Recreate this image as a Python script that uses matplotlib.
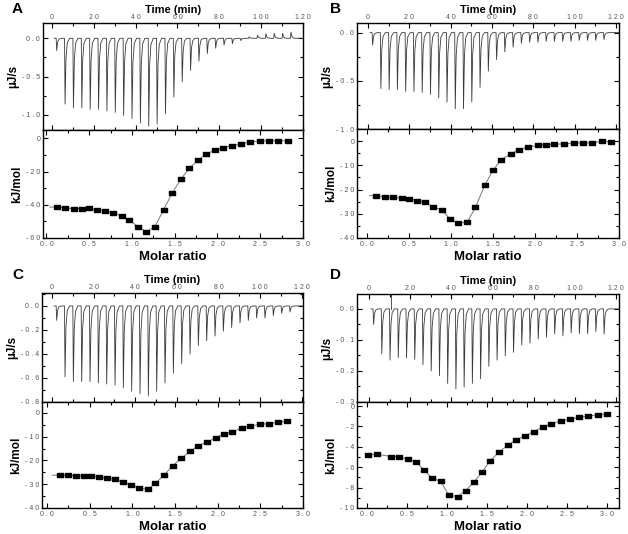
import matplotlib
matplotlib.use('Agg')
import matplotlib.pyplot as plt
from matplotlib.ticker import MultipleLocator, FuncFormatter

plt.rcParams['font.family'] = ['Liberation Sans', 'DejaVu Sans']

# injection times (min), same schedule in all four runs
t_inj = [2, 6, 10, 14, 18, 22, 26, 30, 34, 38, 42, 46, 50, 54, 58,
         62, 66, 70, 74, 78, 82, 86, 90, 94, 98, 102, 106, 110, 114]

# raw thermogram peak heights (uJ/s)
peaks_a = [-0.16, -0.86, -0.91, -0.91, -0.93, -0.93, -0.95, -0.97, -1.01, -1.05,
           -1.11, -1.15, -1.12, -0.99, -0.77, -0.57, -0.42, -0.30, -0.20, -0.13,
           -0.09, -0.07, -0.03, 0.02, 0.04, 0.06, 0.065, 0.065, 0.08]
peaks_b = [-0.13, -0.58, -0.59, -0.59, -0.61, -0.61, -0.62, -0.64, -0.68, -0.72,
           -0.79, -0.79, -0.72, -0.57, -0.40, -0.28, -0.20, -0.15, -0.11, -0.10,
           -0.10, -0.09, -0.09, -0.09, -0.09, -0.08, -0.08, -0.08, -0.07]
peaks_c = [-0.12, -0.59, -0.63, -0.63, -0.63, -0.64, -0.65, -0.66, -0.68, -0.71,
           -0.73, -0.75, -0.71, -0.64, -0.56, -0.48, -0.40, -0.33, -0.29, -0.25,
           -0.21, -0.18, -0.14, -0.12, -0.10, -0.10, -0.08, -0.06, -0.05]
peaks_d = [-0.050, -0.145, -0.165, -0.157, -0.158, -0.163, -0.180, -0.200, -0.215, -0.240,
           -0.258, -0.252, -0.240, -0.225, -0.185, -0.165, -0.151, -0.140, -0.116, -0.110,
           -0.097, -0.091, -0.080, -0.087, -0.077, -0.080, -0.080, -0.073, -0.081]
# run D: one upward spike (air bubble) next to the 3rd injection
glitch_d = (10.6, 0.047)

# integrated heats (kJ/mol) vs molar ratio
ratio_a = [0.12, 0.22, 0.32, 0.42, 0.50, 0.59, 0.68, 0.78, 0.88, 0.97, 1.07, 1.17, 1.27, 1.37,
           1.47, 1.57, 1.67, 1.77, 1.87, 1.97, 2.07, 2.17, 2.28, 2.38, 2.50, 2.60, 2.71, 2.82]
heat_a = [-41.4, -41.9, -42.3, -42.3, -42.1, -43.1, -43.7, -44.7, -46.7, -49.3, -53.1, -56.3,
          -53.1, -42.9, -33.0, -24.7, -18.1, -13.3, -9.3, -7.2, -5.6, -4.4, -3.2, -2.2,
          -1.6, -1.6, -1.4, -1.6]

ratio_b = [0.11, 0.21, 0.31, 0.41, 0.50, 0.60, 0.69, 0.79, 0.89, 0.99, 1.08, 1.19, 1.29, 1.40,
           1.50, 1.60, 1.71, 1.81, 1.92, 2.03, 2.13, 2.23, 2.34, 2.47, 2.57, 2.68, 2.80, 2.90]
heat_b = [-22.5, -23.1, -23.1, -23.6, -23.8, -24.6, -25.3, -27.1, -28.5, -32.2, -33.7, -33.6,
          -27.4, -18.3, -12.0, -7.6, -5.3, -3.5, -2.4, -1.8, -1.4, -1.3, -1.1, -0.8,
          -0.7, -0.7, -0.1, -0.3]

ratio_c = [0.15, 0.25, 0.34, 0.43, 0.51, 0.61, 0.70, 0.80, 0.89, 0.98, 1.08, 1.18, 1.27, 1.37,
           1.47, 1.57, 1.68, 1.77, 1.88, 1.98, 2.07, 2.17, 2.28, 2.38, 2.49, 2.60, 2.71, 2.81]
heat_c = [-26.2, -26.2, -26.4, -26.5, -26.5, -26.9, -27.4, -27.9, -29.2, -30.2, -31.6, -32.1,
          -29.6, -26.2, -22.3, -19.1, -16.1, -13.8, -12.1, -10.5, -8.7, -8.0, -6.3, -5.6,
          -4.8, -4.5, -3.9, -3.5]

ratio_d = [0.01, 0.12, 0.30, 0.40, 0.51, 0.61, 0.71, 0.81, 0.92, 1.02, 1.13, 1.23, 1.33, 1.44,
           1.54, 1.65, 1.76, 1.86, 1.97, 2.08, 2.20, 2.30, 2.42, 2.53, 2.65, 2.76, 2.88, 2.99]
heat_d = [-4.79, -4.72, -4.95, -4.98, -5.21, -5.44, -6.25, -7.07, -7.39, -8.73, -8.89, -8.31,
          -7.49, -6.45, -5.34, -4.50, -3.84, -3.32, -2.93, -2.51, -2.02, -1.73, -1.43, -1.30,
          -1.11, -0.98, -0.85, -0.78]

W, H = 628, 534
fig = plt.figure(figsize=(W / 100, H / 100), dpi=100)


def add_px(x0, y0, x1, y1):
    return fig.add_axes([x0 / W, 1 - y1 / H, (x1 - x0) / W, (y1 - y0) / H])


def spaced(dec):
    def f(v, pos):
        v = round(v, 6) + 0.0
        return ' '.join(f'{v:.{dec}f}')
    return FuncFormatter(f)


def style(ax, xm, xn, ym, yn, xdec, ydec):
    ax.xaxis.set_major_locator(MultipleLocator(xm))
    ax.xaxis.set_minor_locator(MultipleLocator(xn))
    ax.yaxis.set_major_locator(MultipleLocator(ym))
    ax.yaxis.set_minor_locator(MultipleLocator(yn))
    ax.xaxis.set_major_formatter(spaced(xdec))
    ax.yaxis.set_major_formatter(spaced(ydec))
    ax.tick_params(which='both', direction='in', top=True, right=True,
                   labelsize=5, labelcolor='#555555', width=0.8, pad=2)
    ax.tick_params(which='major', length=3.5)
    ax.tick_params(which='minor', length=2.5)
    for s in ax.spines.values():
        s.set_linewidth(1.0)


def thermogram(times, peaks, tend):
    shape_dt = [0, 0.25, 0.7, 1.3, 2.4]
    shape_f = [0, 1, 0.3, 0.07, 0]
    xs, ys = [times[0] - 1.0], [0.0]
    for t, p in zip(times, peaks):
        for dt, f in zip(shape_dt, shape_f):
            xs.append(t + dt)
            ys.append(p * f)
    xs.append(tend)
    ys.append(0.0)
    return xs, ys


rect = [(-1, -0.6), (1, -0.6), (1, 0.6), (-1, 0.6), (-1, -0.6)]

panels = [
    # letter, peaks, ratio, heat, top box, bottom box, time lim, top ylim, top ticks,
    # bottom xlim, bottom ylim, bottom ticks, letter pos, fit lead-in, glitch
    ('A', peaks_a, ratio_a, heat_a, (43, 23, 303, 130), (43, 130, 303, 238),
     (-4.3, 120), (-1.2, 0.2), (0.5, 0.25, 1), (-0.04, 3.0), (-60, 5), (20, 10), (12, 2), 0.08, None),
    ('B', peaks_b, ratio_b, heat_b, (357, 23, 619, 129), (357, 129, 619, 238),
     (-5.3, 121.5), (-1.0, 0.1), (0.5, 0.25, 1), (-0.12, 3.0), (-40, 5), (10, 5), (330, 2), 0.08, None),
    ('C', peaks_c, ratio_c, heat_c, (42, 293, 303, 402), (42, 402, 303, 508),
     (-4.8, 120.5), (-0.8, 0.108), (0.2, 0.1, 1), (-0.06, 3.0), (-40, 4.6), (10, 5), (12, 268), 0.09, None),
    ('D', peaks_d, ratio_d, heat_d, (357, 294, 619, 402), (357, 402, 619, 508),
     (-5.8, 121.5), (-0.3, 0.048), (0.1, 0.05, 1), (-0.125, 3.146), (-10, 0.4), (2, 1), (330, 268), 0.0,
     glitch_d),
]

for (letter, peaks, ratio, heat, tbox, bbox, tlim, tylim, tticks,
     bxlim, bylim, bticks, lpos, lead, glitch) in panels:
    # raw heat flow
    ax1 = add_px(*tbox)
    xs, ys = thermogram(t_inj, peaks, tlim[1])
    ax1.plot(xs, ys, color='#3a3a3a', lw=0.6)
    if glitch:
        ax1.plot([glitch[0], glitch[0]], [0, glitch[1]], color='#3a3a3a', lw=0.6)
    ax1.set_xlim(*tlim)
    ax1.set_ylim(*tylim)
    style(ax1, 20, 10, tticks[0], tticks[1], 0, tticks[2])
    ax1.tick_params(axis='x', labeltop=True, labelbottom=False, pad=1.5)
    ax1.xaxis.set_label_position('top')
    ax1.set_xlabel('Time (min)', fontsize=8, fontweight='bold', labelpad=0.5)
    ax1.set_ylabel('µJ/s', fontsize=8.5, fontweight='bold', labelpad=2)

    # integrated heats
    ax2 = add_px(*bbox)
    fx = [ratio[0] - lead] + ratio if lead else ratio
    fy = [heat[0]] + heat if lead else heat
    ax2.plot(fx, fy, color='#777777', lw=0.7, zorder=2)
    ax2.plot(ratio, heat, ls='none', marker=rect, ms=5, color='black', zorder=3)
    ax2.set_xlim(*bxlim)
    ax2.set_ylim(*bylim)
    style(ax2, 0.5, 0.25, bticks[0], bticks[1], 1, 0)
    ax2.set_xlabel('Molar ratio', fontsize=9.5, fontweight='bold', labelpad=2)
    ax2.set_ylabel('kJ/mol', fontsize=8.5, fontweight='bold', labelpad=2)

    fig.text(lpos[0] / W, 1 - lpos[1] / H, letter, fontsize=11, fontweight='bold',
             ha='left', va='top')

fig.savefig('out.png', dpi=100)
